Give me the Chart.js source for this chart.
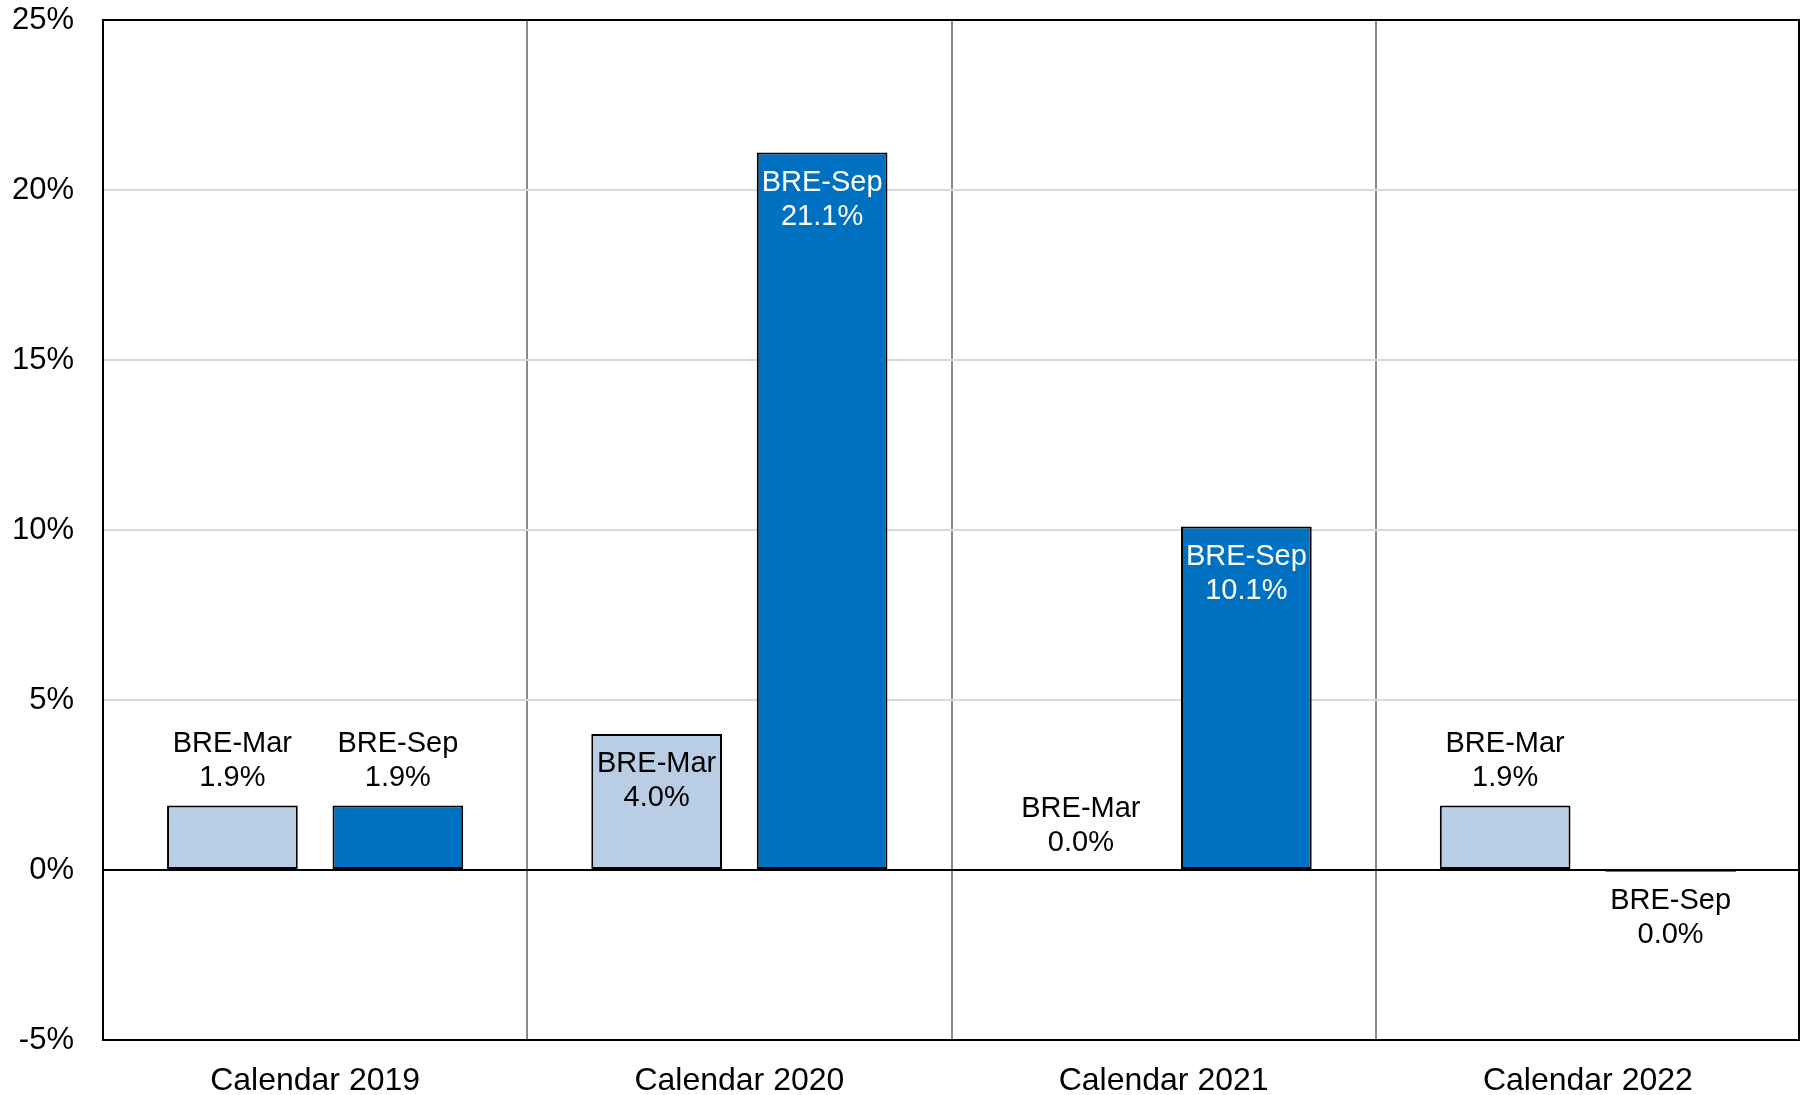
<!DOCTYPE html>
<html>
<head>
<meta charset="utf-8">
<script src="https://cdn.jsdelivr.net/npm/chart.js@4"></script>
<style>
  html, body { margin: 0; padding: 0; background: #fff; }
  canvas { display: block; }
</style>
</head>
<body>
<canvas id="breChart" width="1800" height="1095"></canvas>
<script>
  const categories = ['Calendar 2019', 'Calendar 2020', 'Calendar 2021', 'Calendar 2022'];
  const marValues = [1.9, 4.0, 0.0, 1.9];
  const sepValues = [1.9, 21.1, 10.1, -0.05];
  const seriesNames = ['BRE-Mar', 'BRE-Sep'];
  const yTicks = [-5, 0, 5, 10, 15, 20, 25];

  const FONT = '"Liberation Sans", Arial, sans-serif';

  // labels drawn above / inside / below each bar like the original
  const barLabels = {
    id: 'barLabels',
    afterDatasetsDraw(chart) {
      const c = chart.ctx;
      c.save();
      c.font = '29px ' + FONT;
      c.textAlign = 'center';
      c.textBaseline = 'middle';
      chart.data.datasets.forEach((ds, i) => {
        chart.getDatasetMeta(i).data.forEach((bar, j) => {
          const v = ds.data[j];
          const txt = (Math.round(v * 10) / 10).toFixed(1) + '%';
          const h = Math.abs(bar.base - bar.y);
          let y1, col = '#000';
          if (v > 0 && h > 75) {
            y1 = bar.y + 30;
            if (i === 1) col = '#fff';
          } else if (v >= 0) {
            y1 = bar.y - 27 - 34;
          } else {
            y1 = bar.base + 30;
          }
          c.fillStyle = col;
          c.fillText(ds.label, bar.x, y1);
          c.fillText(txt, bar.x, y1 + 34);
        });
      });
      c.restore();
    }
  };

  const frame = {
    id: 'frame',
    afterDraw(chart) {
      const a = chart.chartArea;
      const c = chart.ctx;
      c.save();
      c.strokeStyle = '#000';
      c.lineWidth = 2;
      c.strokeRect(a.left, a.top, a.right - a.left - 1, a.bottom - a.top);
      c.restore();
    }
  };

  const ctx = document.getElementById('breChart').getContext('2d');

  const breChart = new Chart(ctx, {
    type: 'bar',
    data: {
      labels: categories,
      datasets: [{
        label: seriesNames[0],
        data: marValues,
        backgroundColor: '#B9CDE5',
        borderColor: '#000',
        borderWidth: 2,
        borderSkipped: false
      }, {
        label: seriesNames[1],
        data: sepValues,
        backgroundColor: '#0070C0',
        borderColor: '#000',
        borderWidth: 2,
        borderSkipped: false
      }]
    },
    options: {
      responsive: false,
      animation: false,
      categoryPercentage: 0.78,
      barPercentage: 0.79,
      layout: { padding: { left: 0, right: 0, top: 20, bottom: 0 } },
      plugins: {
        legend: { display: false },
        tooltip: { enabled: false }
      },
      scales: {
        x: {
          grid: { offset: true, color: '#8a8a8a', lineWidth: 2, drawTicks: false },
          border: { display: true, color: '#000', width: 2 },
          ticks: {
            color: '#000',
            padding: 22,
            maxRotation: 0,
            font: { size: 32, family: FONT }
          },
          afterFit: (axis) => {
            axis.height = 55;
            axis.paddingLeft = 0;
            axis.paddingRight = 0;
          }
        },
        y: {
          min: yTicks[0],
          max: yTicks[yTicks.length - 1],
          afterBuildTicks: (axis) => { axis.ticks = yTicks.map(v => ({ value: v })); },
          grid: {
            drawTicks: false,
            color: (c) => c.tick && c.tick.value === 0 ? '#000' : '#d9d9d9',
            lineWidth: 2
          },
          border: { display: true, color: '#000', width: 2 },
          ticks: {
            color: '#000',
            padding: 29,
            font: { size: 31, family: FONT },
            callback: (value) => `${value}%`
          },
          afterFit: (axis) => {
            axis.width = 103;
            axis.paddingTop = 0;
            axis.paddingBottom = 0;
          }
        }
      }
    },
    plugins: [barLabels, frame]
  });
</script>
</body>
</html>
